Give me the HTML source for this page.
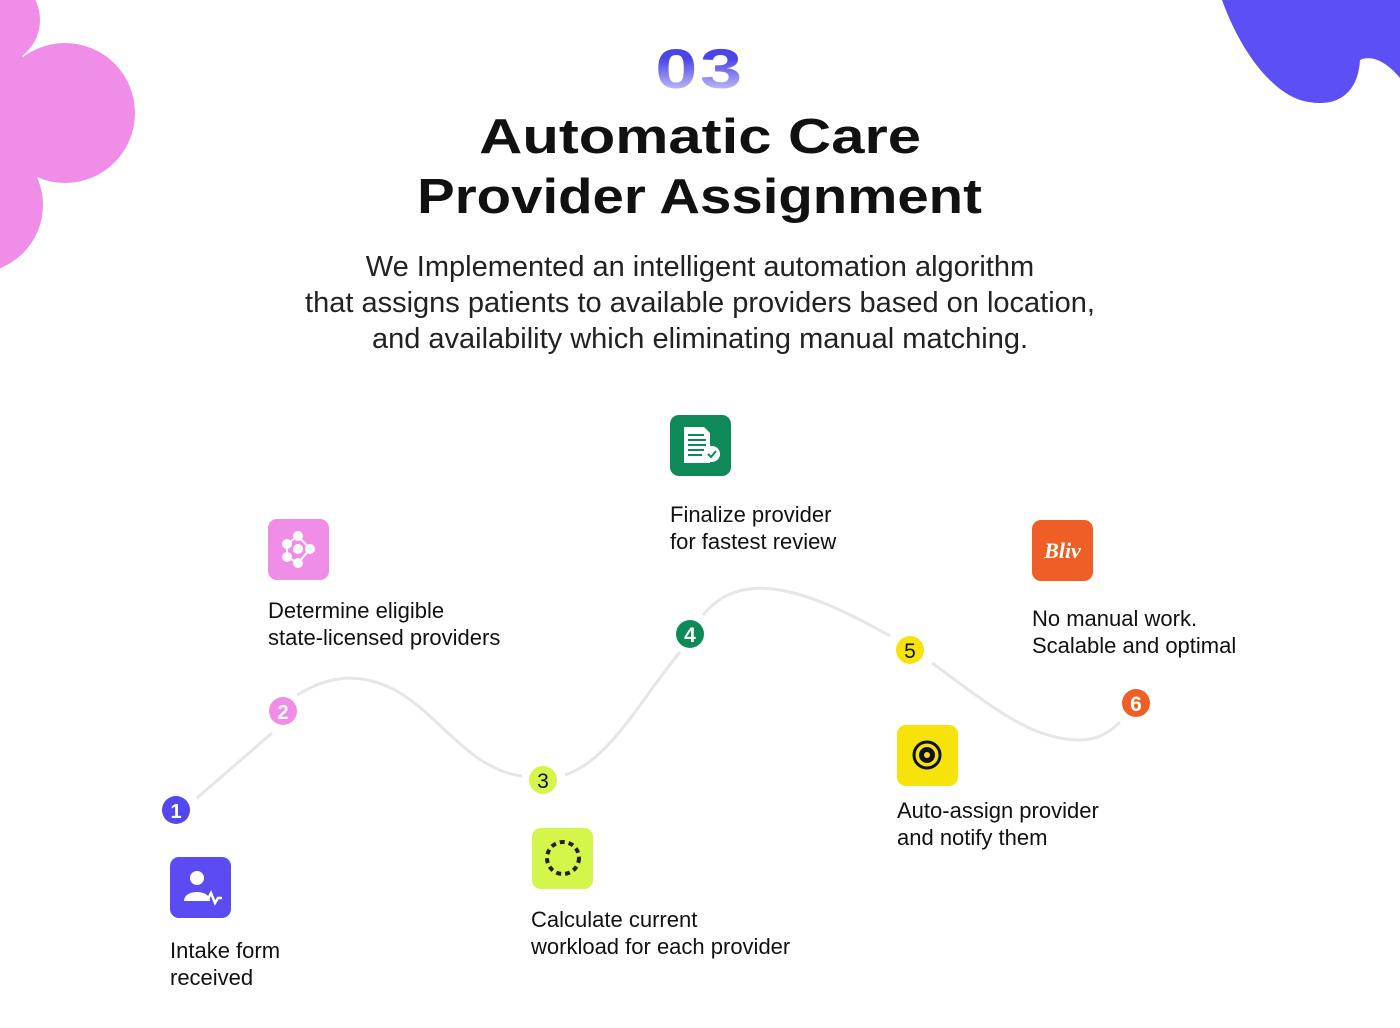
<!DOCTYPE html>
<html><head><meta charset="utf-8"><style>
body{margin:0;width:1400px;height:1028px;background:#fff;position:relative;overflow:hidden;font-family:"Liberation Sans",sans-serif;color:#111}
.abs{position:absolute}
.num{position:absolute;left:0;width:1400px;text-align:center;top:36px;font-size:56px;font-weight:bold;letter-spacing:2px;background:linear-gradient(#4b45e8 35%,#e6e4fc 100%);-webkit-background-clip:text;background-clip:text;color:transparent;transform:scaleX(1.35)}
.title{position:absolute;left:0;width:1400px;text-align:center;font-size:49px;font-weight:bold;line-height:60px;top:107px}
.title span{display:inline-block;transform:scaleX(1.22)}
.sub{position:absolute;left:0;width:1400px;text-align:center;top:249px;font-size:29px;line-height:36px;color:#222}
.lbl{position:absolute;font-size:22px;line-height:27px;color:#111}
.ic{position:absolute;width:61px;height:61px;border-radius:9px}
</style></head><body>
<svg class="abs" style="left:0;top:0" width="1400" height="1028">
<g fill="#f08de8">
<circle cx="65" cy="113" r="70"/><circle cx="-5" cy="20" r="45"/><circle cx="-25" cy="205" r="68"/><circle cx="-5" cy="115" r="65"/>
</g>
<path fill="#5b4ff5" d="M1222 0 L1400 0 L1400 78 C1385 60 1370 55 1360 60 C1358 95 1335 110 1300 100 C1270 90 1240 50 1222 0Z"/>
<path fill="none" stroke="#e6e6e6" stroke-width="3" d="M197 798 L272 733 M297 695 C330 675 360 672 395 690 C440 715 470 770 522 776 M565 775 C610 760 640 700 680 652 M703 615 C740 570 800 585 890 636 M932 663 C990 705 1030 740 1080 740 C1100 740 1112 730 1120 722"/>
<circle cx="176" cy="810" r="14" fill="#5247f0"/><text x="176" y="818" font-size="20" font-weight="bold" fill="#fff" text-anchor="middle" font-family="Liberation Sans">1</text>
<circle cx="283" cy="711" r="14" fill="#f08de8"/><text x="283" y="719" font-size="20" font-weight="bold" fill="#fff" text-anchor="middle" font-family="Liberation Sans">2</text>
<circle cx="543" cy="780" r="14" fill="#d4f54a"/><text x="543" y="788" font-size="21" fill="#111" text-anchor="middle" font-family="Liberation Sans">3</text>
<circle cx="690" cy="634" r="14" fill="#0e8a58"/><text x="690" y="642" font-size="21" font-weight="bold" fill="#fff" text-anchor="middle" font-family="Liberation Sans">4</text>
<circle cx="910" cy="650" r="14" fill="#f7e30a"/><text x="910" y="658" font-size="21" fill="#111" text-anchor="middle" font-family="Liberation Sans">5</text>
<circle cx="1136" cy="703" r="14" fill="#ef5f25"/><text x="1136" y="711" font-size="21" font-weight="bold" fill="#fff" text-anchor="middle" font-family="Liberation Sans">6</text>
</svg>
<div class="num">03</div>
<div class="title"><span>Automatic Care</span><br><span style="transform:scaleX(1.15)">Provider Assignment</span></div>
<div class="sub">We Implemented an intelligent automation algorithm<br>that assigns patients to available providers based on location,<br>and availability which eliminating manual matching.</div>

<div class="ic" style="left:170px;top:857px;background:#5a4cf2"><svg width="61" height="61"><circle cx="27" cy="21" r="7" fill="#fff"/><path d="M14 44 C14 32 40 32 40 44Z" fill="#fff"/><path d="M32 42 L38 42 L41 36 L45 46 L48 41 L52 41" stroke="#fff" stroke-width="2.5" fill="none"/></svg></div>
<div class="lbl" style="left:170px;top:937px">Intake form<br>received</div>

<div class="ic" style="left:268px;top:519px;background:#f08de8"><svg width="61" height="61" fill="#fff"><circle cx="30" cy="17" r="5"/><circle cx="19" cy="25" r="5"/><circle cx="19" cy="38" r="5"/><circle cx="30" cy="30" r="5"/><circle cx="42" cy="30" r="5"/><circle cx="30" cy="44" r="5"/><path d="M30 17 L42 30 L30 44 L19 38 L19 25Z" stroke="#fff" stroke-width="2" fill="none"/></svg></div>
<div class="lbl" style="left:268px;top:597px">Determine eligible<br>state-licensed providers</div>

<div class="ic" style="left:532px;top:828px;background:#d4f54a"><svg width="61" height="61"><circle cx="31" cy="30" r="16" fill="none" stroke="#222" stroke-width="4" stroke-dasharray="5 4"/></svg></div>
<div class="lbl" style="left:531px;top:906px">Calculate current<br>workload for each provider</div>

<div class="ic" style="left:670px;top:415px;background:#0e8a58"><svg width="61" height="61"><path d="M14 12 H34 L40 18 V48 H14Z" fill="#fff"/><g stroke="#0e8a58" stroke-width="2"><path d="M18 20H34M18 25H36M18 30H36M18 35H34M18 40H32"/></g><circle cx="42" cy="39" r="8" fill="#fff"/><path d="M38 39 L41 42 L46 36" stroke="#0e8a58" stroke-width="2" fill="none"/></svg></div>
<div class="lbl" style="left:670px;top:501px">Finalize provider<br>for fastest review</div>

<div class="ic" style="left:897px;top:725px;background:#f7e30a"><svg width="61" height="61"><circle cx="30" cy="30" r="13" fill="none" stroke="#111" stroke-width="3"/><circle cx="30" cy="30" r="8" fill="#111"/><circle cx="30" cy="30" r="3" fill="#f7e30a"/></svg></div>
<div class="lbl" style="left:897px;top:797px">Auto-assign provider<br>and notify them</div>

<div class="ic" style="left:1032px;top:520px;background:#ef5f25"><div style="color:#fff;font:bold italic 22px 'Liberation Serif',serif;text-align:center;line-height:61px">Bliv</div></div>
<div class="lbl" style="left:1032px;top:605px">No manual work.<br>Scalable and optimal</div>
</body></html>
